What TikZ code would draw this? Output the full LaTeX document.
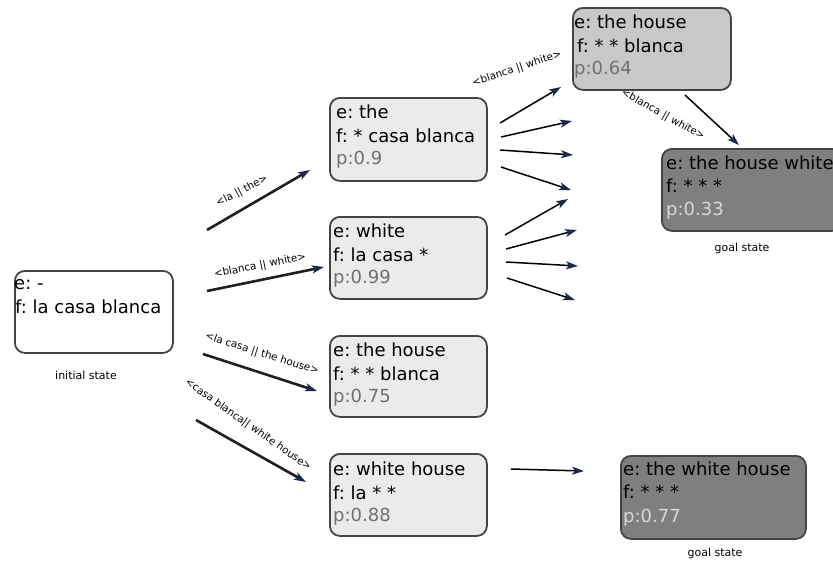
\documentclass[tikz,border=0pt]{standalone}
\usepackage{fontspec}
\setmainfont{DejaVu Sans}
\usetikzlibrary{arrows.meta,calc}
\definecolor{navy}{HTML}{1C2650}
\definecolor{bord}{HTML}{444444}
\definecolor{lightbox}{HTML}{EBEBEB}
\definecolor{midbox}{HTML}{C8C8C8}
\definecolor{darkbox}{HTML}{7F7F7F}
\definecolor{ptxt}{HTML}{707070}
\definecolor{ptxtlight}{HTML}{D8D8D8}
\tikzset{
  state/.style={draw=bord, line width=1.8pt, rounded corners=10pt, anchor=north west, inner sep=0pt},
  txt/.style={anchor=base west, inner sep=0pt, font=\fontsize{18}{20}\selectfont},
  caption/.style={inner sep=0pt, font=\fontsize{11}{13}\selectfont},
  elabel/.style={inner sep=0pt, font=\fontsize{10.3}{12}\selectfont},
  thickarr/.style={line width=2.6pt, draw=black!88, -{Stealth[length=12pt,width=8pt,inset=3pt,fill=navy,color=navy]}},
  thinarr/.style={line width=1.5pt, draw=black, -{Stealth[length=12pt,width=8pt,inset=3pt,fill=navy,color=navy]}},
}
\begin{document}
\frenchspacing
\begin{tikzpicture}[x=1pt,y=-1pt]
\useasboundingbox (0,0) rectangle (833,563);
% boxes
\node[state, fill=white, minimum width=158pt, minimum height=82pt] (init) at (14,270) {};
\node[state, fill=lightbox, minimum width=157pt, minimum height=83pt] (sthe) at (329,97) {};
\node[state, fill=lightbox, minimum width=157pt, minimum height=82pt] (swhite) at (329,216) {};
\node[state, fill=lightbox, minimum width=157pt, minimum height=81pt] (shouse) at (329,335) {};
\node[state, fill=lightbox, minimum width=157pt, minimum height=82pt] (swh) at (329,453) {};
\node[state, fill=midbox, minimum width=158pt, minimum height=82pt] (thehouse) at (572,7) {};
\node[state, fill=darkbox, minimum width=180pt, minimum height=82pt] (goalA) at (661,148) {};
\node[state, fill=darkbox, minimum width=185pt, minimum height=83pt] (goalB) at (620,455) {};
% texts
\node[txt] (t1a) at (14,289) {e: -};
\node[txt] (t1b) at (15,313) {f: la casa blanca};
\node[txt] (t2a) at (336,118) {e: the};
\node[txt] (t2b) at (336,142) {f: * casa blanca};
\node[txt, text=ptxt] (t2c) at (336,164) {p:0.9};
\node[txt] (t3a) at (333,237) {e: white};
\node[txt] (t3b) at (333,261) {f: la casa *};
\node[txt, text=ptxt] (t3c) at (333,283) {p:0.99};
\node[txt] (t4a) at (333,356) {e: the house};
\node[txt] (t4b) at (333,380) {f: * * blanca};
\node[txt, text=ptxt] (t4c) at (333,402) {p:0.75};
\node[txt] (t5a) at (333,475) {e: white house};
\node[txt] (t5b) at (333,499) {f: la * *};
\node[txt, text=ptxt] (t5c) at (333,521) {p:0.88};
\node[txt] (t6a) at (574,28) {e: the house};
\node[txt] (t6b) at (577,52) {f: * * blanca};
\node[txt, text=ptxt] (t6c) at (574,74) {p:0.64};
\node[txt] (t7a) at (666,169) {e: the house white};
\node[txt] (t7b) at (666,192) {f: * * *};
\node[txt, text=ptxtlight] (t7c) at (666,215) {p:0.33};
\node[txt] (t8a) at (623,475) {e: the white house};
\node[txt] (t8b) at (623,498) {f: * * *};
\node[txt, text=ptxtlight] (t8c) at (623,522) {p:0.77};
% captions
\node[caption] (capi) at (86,375) {initial state};
\node[caption] (capa) at (742,248) {goal state};
\node[caption] (capb) at (715,553) {goal state};
% arrow endpoints
\coordinate (a1s) at (207,230); \coordinate (a1e) at (310,170);
\coordinate (a2s) at (207,291); \coordinate (a2e) at (324,267);
\coordinate (a3s) at (203,354); \coordinate (a3e) at (317,391);
\coordinate (a4s) at (196,420); \coordinate (a4e) at (306,482);
\draw[thickarr] (a1s) -- (a1e);
\draw[thickarr] (a2s) -- (a2e);
\draw[thickarr] (a3s) -- (a3e);
\draw[thickarr] (a4s) -- (a4e);
% fan from "the"
\coordinate (b1s) at (500,123); \coordinate (b1e) at (561,87);
\coordinate (b2s) at (501,137); \coordinate (b2e) at (572,121);
\coordinate (b3s) at (500,150); \coordinate (b3e) at (573,155);
\coordinate (b4s) at (501,167); \coordinate (b4e) at (571,190);
\draw[thinarr] (b1s) -- (b1e);
\draw[thinarr] (b2s) -- (b2e);
\draw[thinarr] (b3s) -- (b3e);
\draw[thinarr] (b4s) -- (b4e);
% fan from "white"
\coordinate (c1s) at (505,235); \coordinate (c1e) at (568,199);
\coordinate (c2s) at (506,249); \coordinate (c2e) at (577,230);
\coordinate (c3s) at (506,262); \coordinate (c3e) at (578,266);
\coordinate (c4s) at (507,278); \coordinate (c4e) at (575,300);
\draw[thinarr] (c1s) -- (c1e);
\draw[thinarr] (c2s) -- (c2e);
\draw[thinarr] (c3s) -- (c3e);
\draw[thinarr] (c4s) -- (c4e);
% to goals
\coordinate (d1s) at (685,95); \coordinate (d1e) at (739,145);
\draw[thinarr] (d1s) -- (d1e);
\coordinate (d2s) at (511,469); \coordinate (d2e) at (584,471);
\draw[thinarr] (d2s) -- (d2e);
% edge labels
\node[elabel, rotate=28] (l1) at (242,191) {<la || the>};
\node[elabel, rotate=11] (l2) at (260,266) {<blanca || white>};
\node[elabel, rotate=-17.5] (l3) at (262,354) {<la casa || the house>};
\node[elabel, rotate=-35] (l4) at (248,425) {<casa blanca|| white house>};
\node[elabel, rotate=18.4] (l5) at (517,69) {<blanca || white>};
\node[elabel, rotate=-29] (l6) at (663,115) {<blanca || white>};
\end{tikzpicture}
\end{document}
